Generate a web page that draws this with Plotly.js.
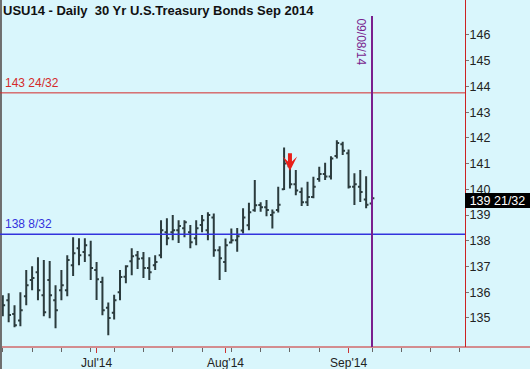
<!DOCTYPE html>
<html>
<head>
<meta charset="utf-8">
<script src="https://cdn.plot.ly/plotly-3.0.1.min.js"></script>
<style>
html,body{margin:0;padding:0;background:#D9F6FC;}
#chart{width:530px;height:369px;}
</style>
</head>
<body>
<div id="chart"></div>
<script>
// trading calendar (axis positions), Jun 9 - Sep 30, 2014
const tradingDays = [
 '06/09','06/10','06/11','06/12','06/13','06/16','06/17','06/18','06/19','06/20',
 '06/23','06/24','06/25','06/26','06/27','06/30',
 '07/01','07/02','07/03','07/07','07/08','07/09','07/10','07/11','07/14','07/15',
 '07/16','07/17','07/18','07/21','07/22','07/23','07/24','07/25','07/28','07/29',
 '07/30','07/31',
 '08/01','08/04','08/05','08/06','08/07','08/08','08/11','08/12','08/13','08/14',
 '08/15','08/18','08/19','08/20','08/21','08/22','08/25','08/26','08/27','08/28','08/29',
 '09/02','09/03','09/04','09/05','09/08',
 '09/09','09/10','09/11','09/12','09/15','09/16','09/17','09/18','09/19','09/22',
 '09/23','09/24','09/25','09/26','09/29','09/30'
];
// daily bars (first 64 trading days)
const openP  = [135.69,135.69,135.15,134.90,135.84,136.47,136.78,135.88,136.47,135.69,
 136.08,136.08,137.05,137.71,137.56,137.44,136.86,136.40,135.40,135.20,
 136.00,136.60,137.20,137.44,137.32,136.94,137.05,137.44,138.33,138.33,
 138.41,138.49,138.33,138.10,138.61,138.41,138.90,137.63,137.17,137.93,
 138.02,138.40,138.60,139.19,139.39,139.30,139.00,139.20,140.00,140.90,
 140.20,139.90,139.50,139.70,140.40,140.60,140.50,141.30,141.75,141.40,
 140.10,140.10,139.60,139.45];
const highP  = [135.88,135.96,135.49,136.00,136.86,137.01,137.36,137.25,137.21,136.27,
 136.86,137.44,138.14,138.10,138.10,138.00,137.17,136.60,135.60,135.90,
 136.86,137.05,137.71,137.60,137.56,137.36,137.44,138.80,138.88,139.00,
 138.80,138.80,138.61,138.80,139.00,139.11,139.06,137.79,138.09,138.48,
 138.50,139.26,139.48,140.36,139.50,139.58,139.22,140.10,141.63,141.07,
 140.75,140.07,140.29,140.49,140.88,141.03,141.29,141.91,141.85,141.55,
 140.62,140.75,140.51,139.87];
const lowP   = [135.07,134.83,134.64,134.68,135.49,136.08,135.69,135.07,134.99,134.60,
 135.69,135.84,136.63,137.05,137.17,136.47,135.70,135.10,134.33,134.94,
 135.69,136.35,136.66,136.90,136.55,136.47,136.86,137.32,137.83,138.02,
 137.91,138.14,137.71,137.83,138.33,138.02,137.38,136.47,136.79,137.89,
 137.57,138.28,138.41,139.13,139.13,138.95,138.48,139.10,139.97,140.03,
 139.77,139.35,139.35,139.65,140.29,140.36,140.38,141.20,141.33,140.03,
 139.39,139.51,139.26,139.32];
const closeP = [135.49,135.11,134.72,135.30,136.27,136.55,136.08,135.22,135.88,135.30,
 136.27,137.25,137.51,137.44,137.83,136.94,136.50,135.30,135.00,135.69,
 136.59,137.01,137.40,137.30,136.94,136.78,137.17,138.41,138.10,138.41,
 138.57,138.72,137.94,138.49,138.80,139.00,137.63,137.32,137.83,138.02,
 138.18,138.90,139.11,139.38,139.30,139.20,139.10,139.40,141.00,140.20,
 139.95,139.50,139.70,140.10,140.60,140.50,141.20,141.80,141.50,140.10,
 140.20,139.90,139.40,139.656];

const monthTickDates = ['07/01','08/01','09/02'];
const monthTickText  = ["Jul'14","Aug'14","Sep'14"];
const weekTickDates  = ['06/09','06/16','06/23','06/30','07/07','07/14','07/21','07/28',
 '08/04','08/11','08/18','08/25','09/02','09/08','09/15','09/22','09/29'];
const yTickVals = [135,136,137,138,139,140,141,142,143,144,145,146];

const titleText = 'USU14 - Daily  30 Yr U.S.Treasury Bonds Sep 2014';
const resistLevel = 143.75, resistLabel = '143 24/32';
const supportLevel = 138.25, supportLabel = '138 8/32';
const lastLabel = '139 21/32';
const markerDate = '09/08', markerText = '09/08/14';
const arrowDate = '08/18', arrowPrice = 140.72;

const pos = d => tradingDays.indexOf(d);
const barX = openP.map((_, i) => pos(tradingDays[i]));

const barColor = '#2B3B3D';
const trace = {
  type: 'ohlc', x: barX, open: openP, high: highP, low: lowP, close: closeP,
  increasing: {line: {color: barColor, width: 2}},
  decreasing: {line: {color: barColor, width: 2}},
  tickwidth: 0.4, hoverinfo: 'skip', showlegend: false
};

const font = 'Liberation Sans, Arial, sans-serif';
const bg = '#D9F6FC';
const layout = {
  width: 530, height: 369,
  margin: {l: 0, r: 65, t: 0, b: 22, pad: 0},
  paper_bgcolor: bg, plot_bgcolor: bg,
  showlegend: false,
  title: {text: '<b>' + titleText + '</b>', x: 3/530, xanchor: 'left', y: 1 - 10/369, yanchor: 'middle',
          font: {family: font, size: 13, color: '#111'}},
  xaxis: {
    type: 'linear', range: [-0.478, 78.87], rangeslider: {visible: false},
    showgrid: false, zeroline: false, showline: false, fixedrange: true,
    tickmode: 'array', tickvals: monthTickDates.map(pos), ticktext: monthTickText,
    ticks: 'outside', ticklen: 5, tickwidth: 1, tickcolor: '#CC3333',
    tickfont: {family: font, size: 12, color: '#222'},
    minor: {tickmode: 'array', tickvals: weekTickDates.map(pos), ticks: 'outside', ticklen: 4, tickwidth: 1, tickcolor: '#666', showgrid: false}
  },
  yaxis: {
    side: 'right', range: [133.87, 147.36], fixedrange: true,
    showgrid: false, zeroline: false, showline: true, linecolor: '#CC2222', linewidth: 1,
    tickmode: 'array', tickvals: yTickVals, ticks: 'outside', ticklen: 3, tickcolor: '#777',
    ticklabelstandoff: -2,
    tickfont: {family: font, size: 12.5, color: '#222'}
  },
  shapes: [
    {type: 'line', xref: 'paper', yref: 'paper', x0: 0, x1: 1.14, y0: 0, y1: 0, line: {color: '#CC2222', width: 1}},
    {type: 'line', xref: 'paper', yref: 'paper', x0: 0.0021, x1: 0.0021, y0: -0.07, y1: 1, line: {color: '#6E6E6E', width: 2}},
    {type: 'line', xref: 'paper', yref: 'y', x0: 0, x1: 1, y0: resistLevel, y1: resistLevel, line: {color: '#D42A2A', width: 1}},
    {type: 'line', xref: 'paper', yref: 'y', x0: 0, x1: 1, y0: supportLevel, y1: supportLevel, line: {color: '#3333DD', width: 1.5}},
    {type: 'line', xref: 'x', yref: 'y', x0: pos(markerDate), x1: pos(markerDate), y0: 146.74, y1: 133.87, line: {color: '#7A1F8E', width: 2}}
  ],
  annotations: [
    {xref: 'paper', yref: 'y', x: 0.006, y: resistLevel, xanchor: 'left', yanchor: 'bottom', yshift: 1,
     text: resistLabel, showarrow: false, font: {family: font, size: 12, color: '#D42A2A'}},
    {xref: 'paper', yref: 'y', x: 0.006, y: supportLevel, xanchor: 'left', yanchor: 'bottom', yshift: 1,
     text: supportLabel, showarrow: false, font: {family: font, size: 12, color: '#3333DD'}},
    {xref: 'x', yref: 'y', x: pos(markerDate), y: 146.74, xanchor: 'right', yanchor: 'top', xshift: -2,
     text: markerText, textangle: 90, showarrow: false, font: {family: font, size: 12, color: '#7A1F8E'}},
    {xref: 'paper', yref: 'y', x: 1, y: closeP[closeP.length - 1], xanchor: 'left', yanchor: 'middle', xshift: 0, yshift: -2,
     text: lastLabel, showarrow: false, bgcolor: '#000', borderpad: 0, borderwidth: 1, bordercolor: '#000',
     width: 63, height: 13, align: 'center',
     font: {family: font, size: 12.5, color: '#fff'}},
    {xref: 'x', yref: 'y', x: pos(arrowDate), y: arrowPrice, ax: 0, ay: -19,
     text: '', showarrow: true, arrowhead: 3, arrowsize: 0.6, arrowwidth: 4, arrowcolor: '#E8201A', standoff: 0}
  ]
};

Plotly.newPlot('chart', [trace], layout, {staticPlot: true, displayModeBar: false});
</script>
</body>
</html>
